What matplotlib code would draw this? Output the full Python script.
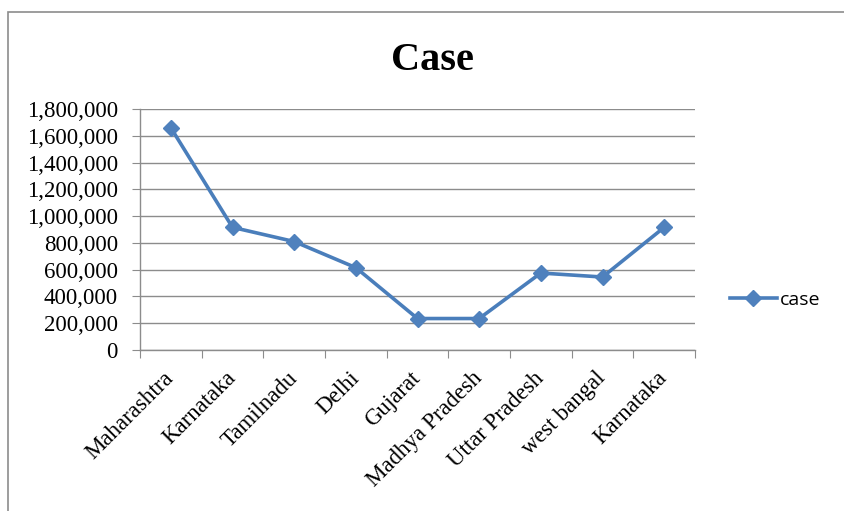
import matplotlib
matplotlib.use("Agg")
import matplotlib.pyplot as plt
from matplotlib.patches import Rectangle
from matplotlib.ticker import FuncFormatter, FixedLocator
import numpy as np

categories = ["Maharashtra", "Karnataka", "Tamilnadu", "Delhi", "Gujarat",
              "Madhya Pradesh", "Uttar Pradesh", "west bangal", "Karnataka"]
cases = [1660000, 916000, 810000, 615000, 235000, 235000, 575000, 545000, 916000]
yticks = [0, 200000, 400000, 600000, 800000, 1000000, 1200000, 1400000, 1600000, 1800000]
title = "Case"
series_name = "case"

W, H = 844, 511
fig = plt.figure(figsize=(W / 100, H / 100), dpi=100)
fig.patch.set_facecolor("white")

# outer chart frame (clipped at right/bottom)
fig.add_artist(Rectangle((8 / W, -0.05), 1.1, 1 - 12 / H + 0.05, transform=fig.transFigure,
                         fill=False, edgecolor="#8c8c8c", linewidth=1.2))

left, right, top, bottom = 140, 695, 109, 350
ax = fig.add_axes([left / W, 1 - bottom / H, (right - left) / W, (bottom - top) / H])

x = np.arange(len(categories))
line, = ax.plot(x, cases, color="#4A7EBB", linewidth=2.6, marker="D", markersize=8,
                markerfacecolor="#4F81BD", markeredgecolor="#4F81BD", zorder=3,
                label=series_name)

ax.set_xlim(-0.5, len(categories) - 0.5)
ax.set_ylim(0, 1800000)
ax.set_yticks(yticks)
ax.yaxis.set_major_formatter(FuncFormatter(lambda v, p: f"{int(v):,}"))
ax.grid(axis="y", color="#8c8c8c", linewidth=1.0)
ax.set_axisbelow(True)

for s in ["top", "right"]:
    ax.spines[s].set_visible(False)
for s in ["left", "bottom"]:
    ax.spines[s].set_color("#8c8c8c")
    ax.spines[s].set_linewidth(1.0)

serif = ["Liberation Serif", "DejaVu Serif"]
ax.tick_params(axis="y", direction="out", length=6, color="#8c8c8c", pad=10,
               labelsize=16.5)
for lab in ax.get_yticklabels():
    lab.set_fontfamily(serif)

# x ticks at category boundaries, labels at centres
ax.xaxis.set_major_locator(FixedLocator(np.arange(-0.5, len(categories), 1.0)))
ax.xaxis.set_major_formatter(FuncFormatter(lambda v, p: ""))
ax.xaxis.set_minor_locator(FixedLocator(x))
ax.set_xticklabels(categories, minor=True)
ax.tick_params(axis="x", which="major", direction="out", length=6, color="#8c8c8c")
ax.tick_params(axis="x", which="minor", length=0, pad=18, labelsize=16.5)
for lab in ax.get_xticklabels(minor=True):
    lab.set_fontfamily(serif)
    lab.set_rotation(45)
    lab.set_ha("right")
    lab.set_va("center")
    lab.set_rotation_mode("anchor")

fig.text(432 / W, 1 - 70 / H, title, ha="center", va="baseline",
         fontsize=29, fontweight="bold", family=serif)

leg = fig.legend(handles=[line], loc="center left", bbox_to_anchor=(730 / W, 1 - 300 / H),
                 frameon=False, prop={"family": "Open Sans", "size": 14},
                 handlelength=2.4, handletextpad=0.15, borderaxespad=0, borderpad=0)

fig.savefig("out.png", dpi=100)
